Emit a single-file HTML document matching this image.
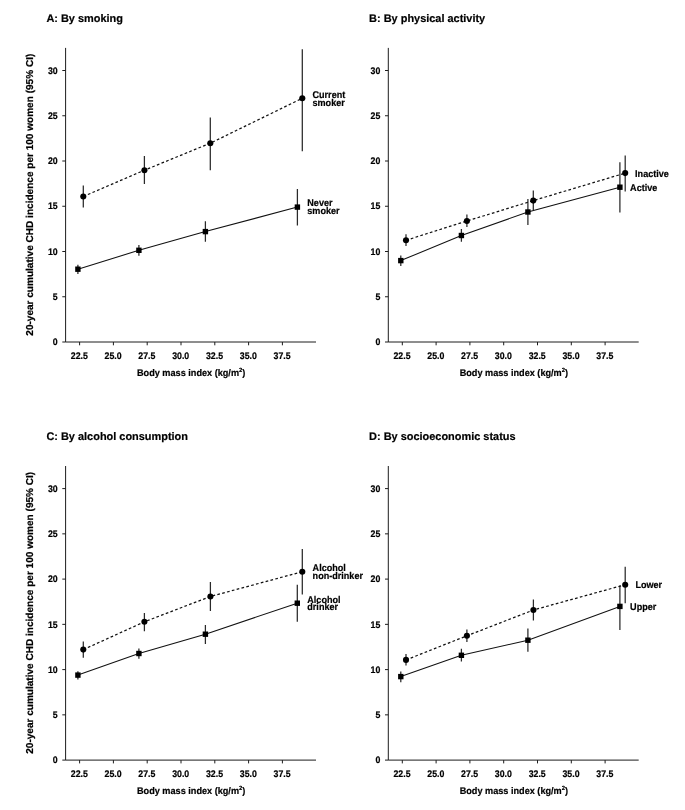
<!DOCTYPE html>
<html><head><meta charset="utf-8"><title>CHD incidence by BMI</title>
<style>html,body{margin:0;padding:0;background:#fff}svg{display:block;will-change:transform;filter:grayscale(1)}text{font-family:"Liberation Sans",sans-serif;font-weight:bold;text-rendering:geometricPrecision;fill:#000;stroke:#000;stroke-width:.2px}.t{font-size:10.95px}.k{font-size:9.5px}.x{font-size:9.6px}.y{font-size:10.05px}.l{font-size:9.75px}.ax{stroke:#1c1c1c;stroke-width:1;fill:none}.ci{stroke:#2a2a2a;stroke-width:1.25;fill:none}.ln{stroke:#111;stroke-width:1.05;fill:none}.da{stroke:#111;stroke-width:1.25;fill:none;stroke-dasharray:2.7 2.3}</style></head><body>
<svg width="685" height="810" viewBox="0 0 685 810">
<rect width="685" height="810" fill="#fff"/>
<g><!-- panel A -->
<text class="t" x="46.4" y="22.2">A: By smoking</text>
<path class="ax" d="M65.6 47.9V342H316M62.3 342H65.6M62.3 296.75H65.6M62.3 251.5H65.6M62.3 206.25H65.6M62.3 161H65.6M62.3 115.75H65.6M62.3 70.5H65.6M79.6 342v3.3M113.4 342v3.3M147.2 342v3.3M181 342v3.3M214.8 342v3.3M248.6 342v3.3M282.4 342v3.3"/>
<text class="k" text-anchor="end" transform="translate(57.7 345.2) scale(.925 1)">0</text>
<text class="k" text-anchor="end" transform="translate(57.7 299.95) scale(.925 1)">5</text>
<text class="k" text-anchor="end" transform="translate(57.7 254.7) scale(.925 1)">10</text>
<text class="k" text-anchor="end" transform="translate(57.7 209.45) scale(.925 1)">15</text>
<text class="k" text-anchor="end" transform="translate(57.7 164.2) scale(.925 1)">20</text>
<text class="k" text-anchor="end" transform="translate(57.7 118.95) scale(.925 1)">25</text>
<text class="k" text-anchor="end" transform="translate(57.7 73.7) scale(.925 1)">30</text>
<text class="k" text-anchor="middle" transform="translate(79.3 358.6) scale(.925 1)">22.5</text>
<text class="k" text-anchor="middle" transform="translate(113.1 358.6) scale(.925 1)">25.0</text>
<text class="k" text-anchor="middle" transform="translate(146.9 358.6) scale(.925 1)">27.5</text>
<text class="k" text-anchor="middle" transform="translate(180.7 358.6) scale(.925 1)">30.0</text>
<text class="k" text-anchor="middle" transform="translate(214.5 358.6) scale(.925 1)">32.5</text>
<text class="k" text-anchor="middle" transform="translate(248.3 358.6) scale(.925 1)">35.0</text>
<text class="k" text-anchor="middle" transform="translate(282.1 358.6) scale(.925 1)">37.5</text>
<text class="x" transform="translate(137 375.9) scale(.952 1)">Body mass index (kg/m<tspan font-size="6.1" dy="-3.9">2</tspan><tspan dy="3.9">)</tspan></text>
<text class="y" transform="translate(33.15 335.7) rotate(-90)">20-year cumulative CHD incidence per 100 women (95% CI)</text>
<path class="ci" d="M83.3 185.6V207.4M144.4 156V184.1M210.3 117.4V170.3M302.3 49.2V151.2M77.9 264.7V273.9M138.9 244.9V255.8M205.4 221.3V241.7M297.4 189V225.5"/>
<path class="da" d="M83.3 196.5L144.4 170.2L210.3 143.2L302.3 98.3"/>
<path class="ln" d="M77.9 269.2L138.9 250.3L205.4 231.6L297.4 207.1"/>
<circle cx="83.3" cy="196.5" r="3.05" fill="#000"/>
<circle cx="144.4" cy="170.2" r="3.05" fill="#000"/>
<circle cx="210.3" cy="143.2" r="3.05" fill="#000"/>
<circle cx="302.3" cy="98.3" r="3.05" fill="#000"/>
<rect x="75.2" y="266.5" width="5.4" height="5.4" fill="#000"/>
<rect x="136.2" y="247.6" width="5.4" height="5.4" fill="#000"/>
<rect x="202.7" y="228.9" width="5.4" height="5.4" fill="#000"/>
<rect x="294.7" y="204.4" width="5.4" height="5.4" fill="#000"/>
<text class="l" transform="translate(312.5 97.7) scale(.93 1)">Current</text>
<text class="l" transform="translate(312.5 105.7) scale(.93 1)">smoker</text>
<text class="l" transform="translate(307.3 206) scale(.93 1)">Never</text>
<text class="l" transform="translate(307.3 214.1) scale(.93 1)">smoker</text>
</g>
<g><!-- panel B -->
<text class="t" x="369.1" y="22.2">B: By physical activity</text>
<path class="ax" d="M388.3 47.9V342H638.7M385 342H388.3M385 296.75H388.3M385 251.5H388.3M385 206.25H388.3M385 161H388.3M385 115.75H388.3M385 70.5H388.3M402.3 342v3.3M436.1 342v3.3M469.9 342v3.3M503.7 342v3.3M537.5 342v3.3M571.3 342v3.3M605.1 342v3.3"/>
<text class="k" text-anchor="end" transform="translate(380.4 345.2) scale(.925 1)">0</text>
<text class="k" text-anchor="end" transform="translate(380.4 299.95) scale(.925 1)">5</text>
<text class="k" text-anchor="end" transform="translate(380.4 254.7) scale(.925 1)">10</text>
<text class="k" text-anchor="end" transform="translate(380.4 209.45) scale(.925 1)">15</text>
<text class="k" text-anchor="end" transform="translate(380.4 164.2) scale(.925 1)">20</text>
<text class="k" text-anchor="end" transform="translate(380.4 118.95) scale(.925 1)">25</text>
<text class="k" text-anchor="end" transform="translate(380.4 73.7) scale(.925 1)">30</text>
<text class="k" text-anchor="middle" transform="translate(402 358.6) scale(.925 1)">22.5</text>
<text class="k" text-anchor="middle" transform="translate(435.8 358.6) scale(.925 1)">25.0</text>
<text class="k" text-anchor="middle" transform="translate(469.6 358.6) scale(.925 1)">27.5</text>
<text class="k" text-anchor="middle" transform="translate(503.4 358.6) scale(.925 1)">30.0</text>
<text class="k" text-anchor="middle" transform="translate(537.2 358.6) scale(.925 1)">32.5</text>
<text class="k" text-anchor="middle" transform="translate(571 358.6) scale(.925 1)">35.0</text>
<text class="k" text-anchor="middle" transform="translate(604.8 358.6) scale(.925 1)">37.5</text>
<text class="x" transform="translate(459.7 375.9) scale(.952 1)">Body mass index (kg/m<tspan font-size="6.1" dy="-3.9">2</tspan><tspan dy="3.9">)</tspan></text>
<path class="ci" d="M406 234.2V246M466.9 214.4V227.1M533.3 190.4V209.9M625.2 155.5V191.5M400.8 255.6V265.9M461.4 228.9V241.8M527.9 199V225M619.9 162.2V212.5"/>
<path class="da" d="M406 240.3L466.9 221L533.3 200.6L625.2 173.1"/>
<path class="ln" d="M400.8 260.6L461.4 235.5L527.9 212L619.9 187.2"/>
<circle cx="406" cy="240.3" r="3.05" fill="#000"/>
<circle cx="466.9" cy="221" r="3.05" fill="#000"/>
<circle cx="533.3" cy="200.6" r="3.05" fill="#000"/>
<circle cx="625.2" cy="173.1" r="3.05" fill="#000"/>
<rect x="398.1" y="257.9" width="5.4" height="5.4" fill="#000"/>
<rect x="458.7" y="232.8" width="5.4" height="5.4" fill="#000"/>
<rect x="525.2" y="209.3" width="5.4" height="5.4" fill="#000"/>
<rect x="617.2" y="184.5" width="5.4" height="5.4" fill="#000"/>
<text class="l" transform="translate(635.1 176.7) scale(.93 1)">Inactive</text>
<text class="l" transform="translate(630.1 190.6) scale(.93 1)">Active</text>
</g>
<g><!-- panel C -->
<text class="t" x="46.4" y="440.3">C: By alcohol consumption</text>
<path class="ax" d="M65.6 466V760.1H316M62.3 760.1H65.6M62.3 714.85H65.6M62.3 669.6H65.6M62.3 624.35H65.6M62.3 579.1H65.6M62.3 533.85H65.6M62.3 488.6H65.6M79.6 760.1v3.3M113.4 760.1v3.3M147.2 760.1v3.3M181 760.1v3.3M214.8 760.1v3.3M248.6 760.1v3.3M282.4 760.1v3.3"/>
<text class="k" text-anchor="end" transform="translate(57.7 763.3) scale(.925 1)">0</text>
<text class="k" text-anchor="end" transform="translate(57.7 718.05) scale(.925 1)">5</text>
<text class="k" text-anchor="end" transform="translate(57.7 672.8) scale(.925 1)">10</text>
<text class="k" text-anchor="end" transform="translate(57.7 627.55) scale(.925 1)">15</text>
<text class="k" text-anchor="end" transform="translate(57.7 582.3) scale(.925 1)">20</text>
<text class="k" text-anchor="end" transform="translate(57.7 537.05) scale(.925 1)">25</text>
<text class="k" text-anchor="end" transform="translate(57.7 491.8) scale(.925 1)">30</text>
<text class="k" text-anchor="middle" transform="translate(79.3 776.7) scale(.925 1)">22.5</text>
<text class="k" text-anchor="middle" transform="translate(113.1 776.7) scale(.925 1)">25.0</text>
<text class="k" text-anchor="middle" transform="translate(146.9 776.7) scale(.925 1)">27.5</text>
<text class="k" text-anchor="middle" transform="translate(180.7 776.7) scale(.925 1)">30.0</text>
<text class="k" text-anchor="middle" transform="translate(214.5 776.7) scale(.925 1)">32.5</text>
<text class="k" text-anchor="middle" transform="translate(248.3 776.7) scale(.925 1)">35.0</text>
<text class="k" text-anchor="middle" transform="translate(282.1 776.7) scale(.925 1)">37.5</text>
<text class="x" transform="translate(137 794) scale(.952 1)">Body mass index (kg/m<tspan font-size="6.1" dy="-3.9">2</tspan><tspan dy="3.9">)</tspan></text>
<text class="y" transform="translate(33.15 753.8) rotate(-90)">20-year cumulative CHD incidence per 100 women (95% CI)</text>
<path class="ci" d="M83.3 641.4V657.8M144.4 612.9V631.2M210.4 582.1V611M302.3 549.1V594.4M77.9 671.2V679.6M138.9 648.6V658.8M205.4 625V644M297.3 584.8V621.8"/>
<path class="da" d="M83.3 649.6L144.4 621.8L210.4 596.5L302.3 571.7"/>
<path class="ln" d="M77.9 675.1L138.9 653.5L205.4 634.2L297.3 603.2"/>
<circle cx="83.3" cy="649.6" r="3.05" fill="#000"/>
<circle cx="144.4" cy="621.8" r="3.05" fill="#000"/>
<circle cx="210.4" cy="596.5" r="3.05" fill="#000"/>
<circle cx="302.3" cy="571.7" r="3.05" fill="#000"/>
<rect x="75.2" y="672.4" width="5.4" height="5.4" fill="#000"/>
<rect x="136.2" y="650.8" width="5.4" height="5.4" fill="#000"/>
<rect x="202.7" y="631.5" width="5.4" height="5.4" fill="#000"/>
<rect x="294.6" y="600.5" width="5.4" height="5.4" fill="#000"/>
<text class="l" transform="translate(312.6 570.8) scale(.93 1)">Alcohol</text>
<text class="l" transform="translate(312.6 578.7) scale(.93 1)">non-drinker</text>
<text class="l" transform="translate(307.3 602.8) scale(.93 1)">Alcohol</text>
<text class="l" transform="translate(307.3 610.3) scale(.93 1)">drinker</text>
</g>
<g><!-- panel D -->
<text class="t" x="369.1" y="440.3">D: By socioeconomic status</text>
<path class="ax" d="M388.3 466V760.1H638.7M385 760.1H388.3M385 714.85H388.3M385 669.6H388.3M385 624.35H388.3M385 579.1H388.3M385 533.85H388.3M385 488.6H388.3M402.3 760.1v3.3M436.1 760.1v3.3M469.9 760.1v3.3M503.7 760.1v3.3M537.5 760.1v3.3M571.3 760.1v3.3M605.1 760.1v3.3"/>
<text class="k" text-anchor="end" transform="translate(380.4 763.3) scale(.925 1)">0</text>
<text class="k" text-anchor="end" transform="translate(380.4 718.05) scale(.925 1)">5</text>
<text class="k" text-anchor="end" transform="translate(380.4 672.8) scale(.925 1)">10</text>
<text class="k" text-anchor="end" transform="translate(380.4 627.55) scale(.925 1)">15</text>
<text class="k" text-anchor="end" transform="translate(380.4 582.3) scale(.925 1)">20</text>
<text class="k" text-anchor="end" transform="translate(380.4 537.05) scale(.925 1)">25</text>
<text class="k" text-anchor="end" transform="translate(380.4 491.8) scale(.925 1)">30</text>
<text class="k" text-anchor="middle" transform="translate(402 776.7) scale(.925 1)">22.5</text>
<text class="k" text-anchor="middle" transform="translate(435.8 776.7) scale(.925 1)">25.0</text>
<text class="k" text-anchor="middle" transform="translate(469.6 776.7) scale(.925 1)">27.5</text>
<text class="k" text-anchor="middle" transform="translate(503.4 776.7) scale(.925 1)">30.0</text>
<text class="k" text-anchor="middle" transform="translate(537.2 776.7) scale(.925 1)">32.5</text>
<text class="k" text-anchor="middle" transform="translate(571 776.7) scale(.925 1)">35.0</text>
<text class="k" text-anchor="middle" transform="translate(604.8 776.7) scale(.925 1)">37.5</text>
<text class="x" transform="translate(459.7 794) scale(.952 1)">Body mass index (kg/m<tspan font-size="6.1" dy="-3.9">2</tspan><tspan dy="3.9">)</tspan></text>
<path class="ci" d="M406 654V665.4M466.9 629.5V642M533.4 599.4V620.5M625.2 566.8V603.3M400.8 671.5V682.3M461.4 648.8V661.5M527.9 628.6V651.8M619.9 585.5V629.9"/>
<path class="da" d="M406 659.9L466.9 635.8L533.4 610L625.2 584.7"/>
<path class="ln" d="M400.8 676.6L461.4 655.3L527.9 640.2L619.9 606.4"/>
<circle cx="406" cy="659.9" r="3.05" fill="#000"/>
<circle cx="466.9" cy="635.8" r="3.05" fill="#000"/>
<circle cx="533.4" cy="610" r="3.05" fill="#000"/>
<circle cx="625.2" cy="584.7" r="3.05" fill="#000"/>
<rect x="398.1" y="673.9" width="5.4" height="5.4" fill="#000"/>
<rect x="458.7" y="652.6" width="5.4" height="5.4" fill="#000"/>
<rect x="525.2" y="637.5" width="5.4" height="5.4" fill="#000"/>
<rect x="617.2" y="603.7" width="5.4" height="5.4" fill="#000"/>
<text class="l" transform="translate(635.4 588) scale(.93 1)">Lower</text>
<text class="l" transform="translate(630.1 609.7) scale(.93 1)">Upper</text>
</g>
</svg></body></html>
